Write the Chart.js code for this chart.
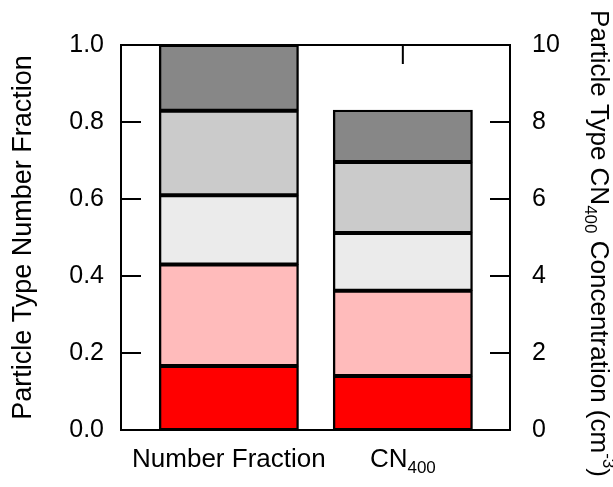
<!DOCTYPE html>
<html>
<head>
<meta charset="utf-8">
<script src="https://cdn.jsdelivr.net/npm/chart.js@4.4.1/dist/chart.umd.min.js"></script>
<style>
  html, body { margin: 0; padding: 0; background: #fff; }
  canvas { display: block; }
</style>
</head>
<body>
<canvas id="grafico" width="613" height="487"></canvas>
<script>
// =========================================================================
// 1. DATA
// =========================================================================
// bars along the x axis
const categories = ['Number Fraction', 'CN400'];
// particle types, bottom of the stack first
const particleTypes = ['Type 1', 'Type 2', 'Type 3', 'Type 4', 'Type 5'];
const typeColors = ['#ff0000', '#ffbbbb', '#ebebeb', '#cbcbcb', '#878787'];
// number fraction of each type (left axis)
const numberFraction = [0.166, 0.264, 0.180, 0.219, 0.171];
// CN400 concentration of each type, cm-3 (right axis)
const cn400Conc = [1.40, 2.22, 1.50, 1.84, 1.35];
const leftTicks = [0, 0.2, 0.4, 0.6, 0.8, 1.0];
const rightTicks = [0, 2, 4, 6, 8, 10];

const FONT = '"Liberation Sans", Arial, sans-serif';

// =========================================================================
// 2. DATASETS (one stack per bar, each on its own y axis)
// =========================================================================
const datasets = [];
particleTypes.forEach((tipo, i) => {
    const comum = {
        label: tipo,
        backgroundColor: typeColors[i],
        borderColor: '#000',
        borderWidth: 2.4,
        borderSkipped: false,
        // overlap neighbours a little so no light seam shows between segments
        inflateAmount: 0.4,
        grouped: false,
        barPercentage: 0.8,
        categoryPercentage: 1.0
    };
    datasets.push({ ...comum, yAxisID: 'y', data: [{ x: 0, y: numberFraction[i] }] });
    datasets.push({ ...comum, yAxisID: 'y2', data: [{ x: 1, y: cn400Conc[i] }] });
});

// text made of pieces with sub/superscripts, centred on (0,0) of the current transform
function textoComposto(ctx, partes) {
    let total = 0;
    partes.forEach(p => {
        ctx.font = p.size + 'px ' + FONT;
        p.w = ctx.measureText(p.t).width;
        total += p.w;
    });
    let x = -total / 2;
    ctx.textAlign = 'left';
    ctx.textBaseline = 'alphabetic';
    partes.forEach(p => {
        ctx.font = p.size + 'px ' + FONT;
        ctx.fillText(p.t, x, p.dy || 0);
        x += p.w;
    });
}

// =========================================================================
// 3. FRAME, INWARD TICKS AND LABELS
// =========================================================================
const eixos = {
    id: 'eixos',
    beforeDatasetsDraw(chart) {
        // category ticks on top edge, bars cover them
        const { ctx, chartArea: a, scales } = chart;
        ctx.save();
        ctx.strokeStyle = '#000';
        ctx.lineWidth = 2;
        ctx.beginPath();
        categories.forEach((c, i) => {
            const px = scales.x.getPixelForValue(i);
            ctx.moveTo(px, a.top);
            ctx.lineTo(px, a.top + 19);
        });
        ctx.stroke();
        ctx.restore();
    },
    afterDatasetsDraw(chart) {
        const { ctx, chartArea: a, scales } = chart;
        ctx.save();
        ctx.strokeStyle = '#000';
        ctx.lineWidth = 2;
        ctx.strokeRect(a.left, a.top, a.right - a.left, a.bottom - a.top);

        ctx.beginPath();
        leftTicks.forEach(v => {
            const py = scales.y.getPixelForValue(v);
            ctx.moveTo(a.left, py);
            ctx.lineTo(a.left + 20, py);
        });
        rightTicks.forEach(v => {
            const py = scales.y2.getPixelForValue(v);
            ctx.moveTo(a.right, py);
            ctx.lineTo(a.right - 20, py);
        });
        ctx.stroke();

        // category labels
        ctx.fillStyle = '#000';
        const baseY = a.bottom + 37;
        ctx.save();
        ctx.translate(scales.x.getPixelForValue(0), baseY);
        textoComposto(ctx, [{ t: 'Number Fraction', size: 26 }]);
        ctx.restore();
        ctx.save();
        ctx.translate(scales.x.getPixelForValue(1), baseY);
        textoComposto(ctx, [{ t: 'CN', size: 26 }, { t: '400', size: 17, dy: 6 }]);
        ctx.restore();

        // right axis title, reading downwards
        ctx.save();
        ctx.translate(591, chart.height / 2);
        ctx.rotate(Math.PI / 2);
        textoComposto(ctx, [
            { t: 'Particle Type CN', size: 26 },
            { t: '400', size: 17, dy: 6 },
            { t: ' Concentration (cm', size: 26 },
            { t: '-3', size: 17, dy: -12 },
            { t: ')', size: 26 }
        ]);
        ctx.restore();
        ctx.restore();
    }
};

// =========================================================================
// 4. CHART
// =========================================================================
const tickFont = { family: FONT, size: 25 };

new Chart(document.getElementById('grafico'), {
    type: 'bar',
    data: { datasets },
    options: {
        responsive: false,
        animation: false,
        layout: { padding: { top: 45, left: 0, right: 0, bottom: 0 } },
        plugins: { legend: { display: false }, tooltip: { enabled: false } },
        scales: {
            x: {
                type: 'linear',
                min: -0.62,
                max: 1.616,
                offset: false,
                stacked: true,
                grid: { display: false },
                border: { display: false },
                ticks: { display: false },
                afterBuildTicks: s => { s.ticks = categories.map((c, i) => ({ value: i })); },
                afterFit: s => { s.height = 57; }
            },
            y: {
                position: 'left',
                stacked: true,
                min: 0,
                max: 1,
                grid: { display: false },
                border: { display: false },
                afterBuildTicks: s => { s.ticks = leftTicks.map(v => ({ value: v })); },
                ticks: {
                    font: tickFont,
                    color: '#000',
                    padding: 9,
                    callback: v => v.toFixed(1)
                },
                title: {
                    display: true,
                    text: 'Particle Type Number Fraction',
                    font: { family: FONT, size: 27 },
                    color: '#000',
                    padding: { top: 7, bottom: 0 }
                },
                afterFit: s => { s.width = 121; }
            },
            y2: {
                position: 'right',
                stacked: true,
                min: 0,
                max: 10,
                grid: { display: false },
                border: { display: false },
                afterBuildTicks: s => { s.ticks = rightTicks.map(v => ({ value: v })); },
                ticks: {
                    font: tickFont,
                    color: '#000',
                    padding: 14
                },
                afterFit: s => { s.width = 103; }
            }
        }
    },
    plugins: [eixos]
});
</script>
</body>
</html>
